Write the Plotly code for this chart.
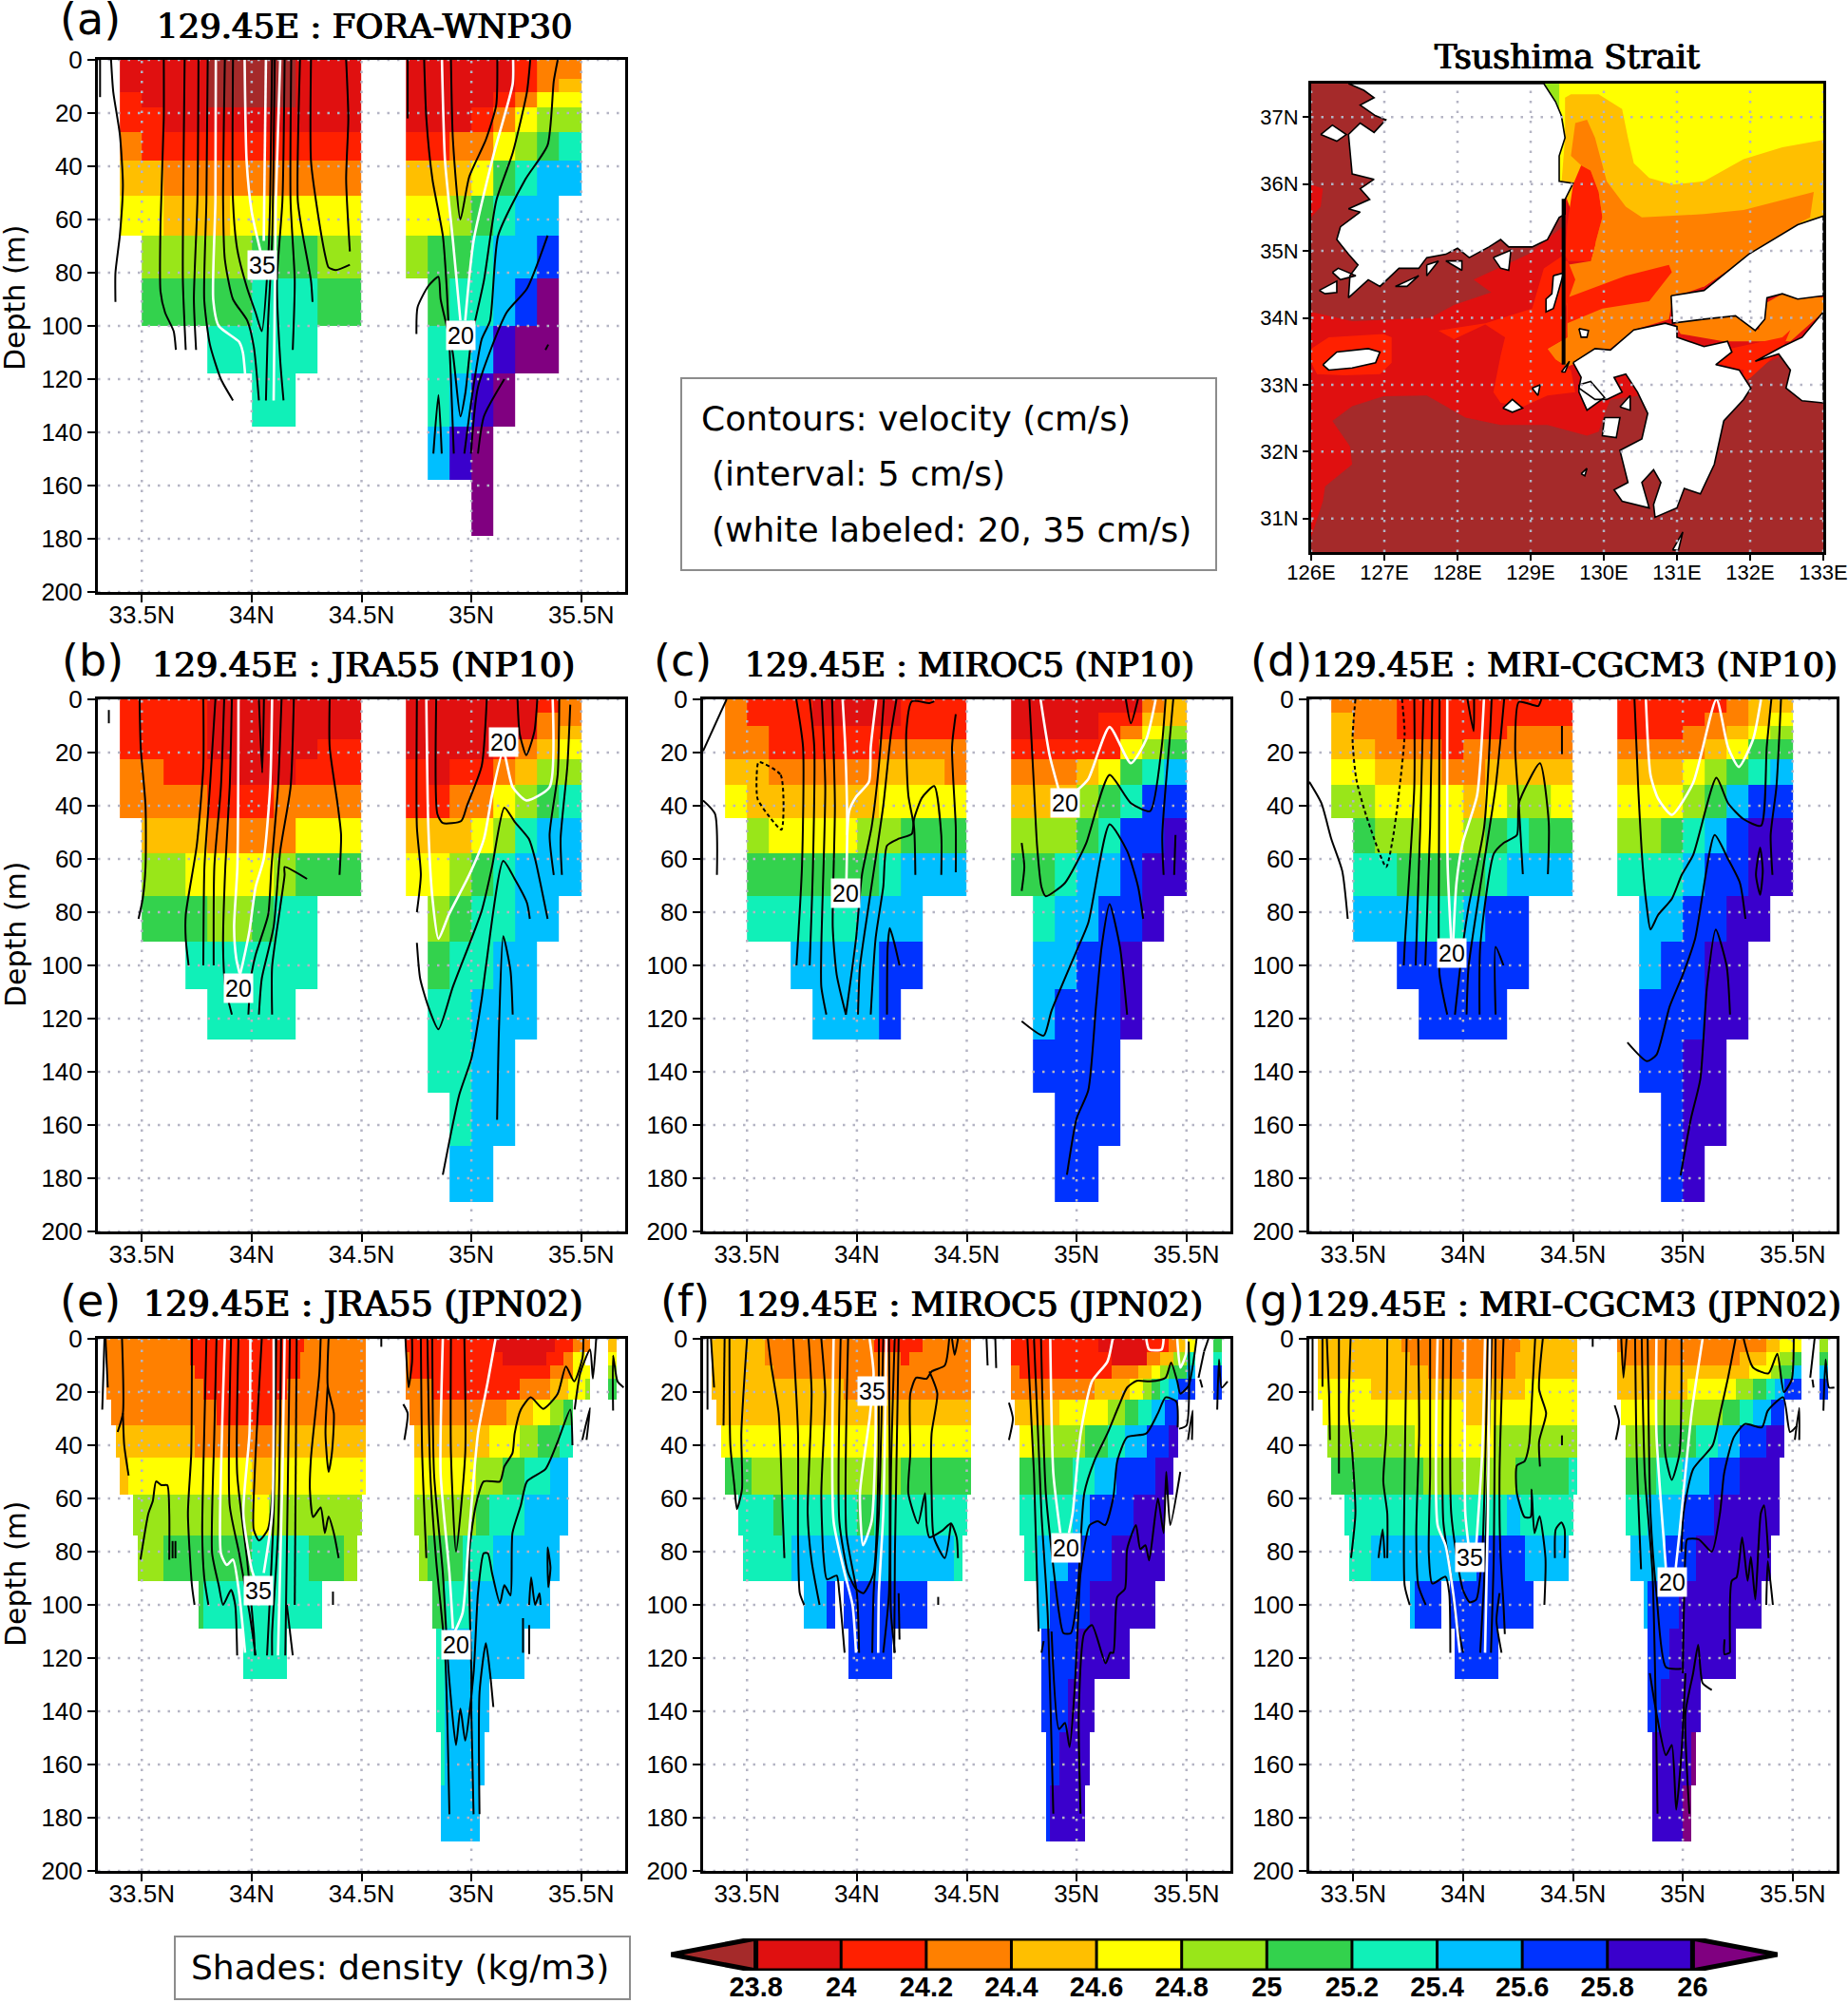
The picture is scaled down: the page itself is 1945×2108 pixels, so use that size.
import plotly.graph_objects as go

W, H = 1945, 2108

DENSITY_LEVELS = [23.8, 24.0, 24.2, 24.4, 24.6, 24.8, 25.0, 25.2, 25.4, 25.6, 25.8, 26.0]
DENSITY_LABELS = ["23.8", "24", "24.2", "24.4", "24.6", "24.8", "25", "25.2", "25.4", "25.6", "25.8", "26"]
COLORS = ["#a52a2a", "#e01010", "#ff2000", "#ff8000", "#ffbf00", "#ffff00", "#99e619",
          "#33d24d", "#10f0b8", "#00bfff", "#0033ff", "#3a00cc", "#800080"]
LAT_TICKS = [33.5, 34, 34.5, 35, 35.5]
LAT_LABELS = ["33.5N", "34N", "34.5N", "35N", "35.5N"]
DEPTH_TICKS = list(range(0, 201, 20))
LON_TICKS = [126, 127, 128, 129, 130, 131, 132, 133]
LON_LABELS = ["126E", "127E", "128E", "129E", "130E", "131E", "132E", "133E"]
MAPLAT_TICKS = [31, 32, 33, 34, 35, 36, 37]
MAPLAT_LABELS = ["31N", "32N", "33N", "34N", "35N", "36N", "37N"]

DEPTH_A = [0, 7, 12, 18, 27, 38, 51, 66, 82, 100, 118, 138, 158, 179]
DEPTH_NP10 = [0, 5, 10, 15, 22.5, 32, 44.5, 58, 74, 91, 109, 128, 148, 168, 189]
DEPTH_JPN02 = [0, 5, 10, 15, 23, 32.5, 44.5, 58.5, 74, 91, 109, 128, 148, 168, 189]

# density class per 0.1 deg cell, 33.4N ... 35.4N (0=<23.8 ... c=>26)
ROWS_A = ["11110000111" + ".." + "11111233", "11110000111" + ".." + "11111234",
          "21110000111" + ".." + "11112355", "22111111111" + ".." + "11123566",
          "32222222222" + ".." + "22335678", "44333333333" + ".." + "44457899",
          "55444555555" + ".." + "5567899.", ".6666677766" + ".." + "677899a.",
          ".7777788877" + ".." + ".7889ac.", "....88888.." + ".." + ".889bcc.",
          "......88..." + ".." + ".89bc...", "..........." + ".." + ".9bc....",
          "..........." + ".." + "...c...."]
ROWS_B = ["22221111111" + ".." + "11111123", "22221111111" + ".." + "11111133",
          "22221111111" + ".." + "11111134", "22221111122" + ".." + "11112345",
          "33222111222" + ".." + "21223466", "33332223333" + ".." + "22335678",
          ".4443333555" + ".." + "44456899", ".6655556777" + ".." + "55678999",
          ".77766788.." + ".." + ".678899.", "...888888.." + ".." + ".78899..",
          "....8888..." + ".." + ".88999..", "..........." + ".." + ".8899...",
          "..........." + ".." + "..899...", "..........." + ".." + "..99...."]
ROWS_C = ["32221111222" + ".." + "11111134", "32221111222" + ".." + "11112244",
          "33222222222" + ".." + "11112356", "33222223333" + ".." + "22222567",
          "44333334443" + ".." + "33345789", "54444445555" + ".." + "444678aa",
          ".6555566777" + ".." + "66678aab", ".7777778999" + ".." + "77899abb",
          ".88888999.." + ".." + ".899aab.", "...9999aa.." + ".." + ".99aab..",
          "....999a..." + ".." + ".9aaab..", "..........." + ".." + ".aaaa...",
          "..........." + ".." + "..aaa...", "..........." + ".." + "..aa...."]
ROWS_D = ["33322222222" + ".." + "22222344", "43322222222" + ".." + "22223345",
          "43322222333" + ".." + "22233456", "44333233333" + ".." + "33334577",
          "55444334444" + ".." + "44456789", "66555545665" + ".." + "555679aa",
          ".7665567877" + ".." + "66789abb", ".8877778999" + ".." + "8889aabb",
          ".999889aa.." + ".." + ".99aabb.", "...aaaaaa.." + ".." + ".9aabb..",
          "....aaaa..." + ".." + ".aaabb..", "..........." + ".." + ".aabb...",
          "..........." + ".." + "..abb...", "..........." + ".." + "..ab...."]

# JPN02 rows: "start_lat:class" runs
ROWS_E = [
 "33.34:3 33.72:2 34.24:3 34.52:. 34.70:2 35.10:1 35.38:2 35.46:3 35.54:. 35.62:4 35.66:.",
 "33.34:3 33.72:2 34.22:3 34.52:. 34.70:3 34.72:2 35.14:1 35.33:2 35.42:3 35.46:5 35.52:. 35.62:5 35.66:.",
 "33.34:3 33.74:2 34.22:3 34.52:. 34.70:3 34.72:2 35.36:3 35.46:5 35.54:. 35.62:6 35.66:.",
 "33.34:3 33.78:2 34.16:3 34.52:. 34.70:3 34.82:2 35.22:3 35.36:4 35.44:5 35.52:6 35.54:. 35.62:7 35.66:.",
 "33.36:3 33.84:2 34.10:3 34.52:. 34.72:3 35.16:4 35.28:5 35.36:6 35.42:7 35.46:.",
 "33.38:4 33.74:3 34.10:4 34.52:. 34.74:4 35.08:5 35.22:6 35.30:7 35.40:8 35.46:.",
 "33.40:4 33.44:5 34.00:4 34.10:5 34.52:. 34.74:5 35.01:6 35.14:7 35.24:8 35.36:9 35.44:.",
 "33.46:6 34.00:5 34.08:6 34.50:. 34.74:6 35.01:7 35.08:8 35.24:9 35.44:.",
 "33.48:6 33.60:7 34.00:8 34.26:7 34.42:6 34.48:. 34.76:6 34.80:7 34.96:8 35.10:9 35.40:.",
 "33.76:7 33.78:8 34.32:. 34.82:7 34.87:8 35.00:9 35.36:.",
 "33.96:8 34.16:. 34.84:8 34.87:9 35.24:.",
 "34.84:8 34.87:9 35.08:.",
 "34.86:8 34.88:9 35.06:.",
 "34.86:9 35.04:.",
]
ROWS_F = [
 "33.34:4 33.58:3 34.08:2 34.30:3 34.52:. 34.70:2 35.10:1 35.32:2 35.42:3 35.46:4 35.50:5 35.54:. 35.62:7 35.66:.",
 "33.34:4 33.58:3 34.20:2 34.24:3 34.52:. 34.70:2 35.16:1 35.32:3 35.38:4 35.44:6 35.50:8 35.54:. 35.62:8 35.66:.",
 "33.34:4 33.62:3 34.52:. 34.70:3 34.74:2 35.16:3 35.28:4 35.34:5 35.38:6 35.42:7 35.50:9 35.54:. 35.62:a 35.66:.",
 "33.34:4 33.94:3 34.52:. 34.70:3 35.08:4 35.24:5 35.30:6 35.34:7 35.38:8 35.42:9 35.46:a 35.54:. 35.62:a 35.66:.",
 "33.36:4 34.52:. 34.72:4 34.92:5 35.14:6 35.22:7 35.28:8 35.34:9 35.40:a 35.46:.",
 "33.38:5 34.52:. 34.74:5 34.80:6 35.04:7 35.14:8 35.22:9 35.32:a 35.42:b 35.46:.",
 "33.40:7 33.52:6 34.20:7 34.52:. 34.74:7 34.98:8 35.08:9 35.18:a 35.36:b 35.44:.",
 "33.46:8 33.62:7 33.66:8 34.00:7 34.08:8 34.50:. 34.74:8 34.98:9 35.06:a 35.26:b 35.40:.",
 "33.48:8 33.70:9 34.44:8 34.48:. 34.76:8 34.82:9 34.96:a 35.16:b 35.40:.",
 "33.76:9 33.86:a 33.90:. 33.94:a 34.32:. 34.82:9 34.88:a 35.06:b 35.36:.",
 "33.96:a 34.16:. 34.84:a 35.00:b 35.24:.",
 "34.84:a 34.96:b 35.08:.",
 "34.86:a 34.92:b 35.06:.",
 "34.86:a 34.88:b 35.04:.",
]
ROWS_G = [
 "33.34:4 33.72:3 34.26:4 34.52:. 34.70:3 35.38:4 35.44:5 35.54:. 35.62:6 35.66:.",
 "33.34:4 33.76:3 34.24:4 34.52:. 34.70:4 34.72:3 35.26:4 35.38:5 35.44:6 35.50:7 35.54:. 35.62:7 35.66:.",
 "33.34:4 33.84:3 34.24:4 34.52:. 34.70:4 35.30:5 35.40:6 35.44:7 35.50:9 35.54:. 35.62:9 35.66:.",
 "33.34:5 33.58:4 34.28:5 34.52:. 34.70:4 35.02:5 35.24:6 35.32:7 35.38:8 35.42:9 35.46:a 35.54:. 35.62:a 35.66:.",
 "33.36:5 34.00:4 34.12:5 34.52:. 34.72:5 34.88:6 35.18:7 35.26:8 35.32:9 35.40:a 35.46:.",
 "33.38:6 33.78:5 34.14:6 34.52:. 34.74:6 34.88:7 35.06:8 35.16:9 35.26:a 35.38:b 35.46:.",
 "33.40:7 33.82:6 34.24:7 34.48:8 34.52:. 34.74:7 34.88:8 35.00:9 35.12:a 35.26:b 35.44:.",
 "33.46:8 34.20:9 34.26:8 34.50:. 34.74:8 34.84:9 35.00:a 35.14:b 35.44:.",
 "33.48:8 33.58:9 34.06:a 34.28:9 34.48:. 34.76:9 34.92:a 35.06:b 35.40:.",
 "33.76:9 33.78:a 33.90:. 33.94:a 34.32:. 34.82:9 34.84:a 34.98:b 35.36:.",
 "33.96:a 34.16:. 34.84:a 34.94:b 35.24:.",
 "34.84:a 34.90:b 35.08:.",
 "34.86:b 35.04:c 35.06:.",
 "34.86:b 35.00:c 35.04:.",
]

# velocity contours: (lat, depth)
BLACK_A = [
 [(33.31,0),(33.31,14)],
 [(33.36,0),(33.37,12),(33.40,28),(33.414,47),(33.40,66),(33.38,80),(33.38,91)],
 [(33.6,0),(33.6,22),(33.585,62),(33.585,87),(33.606,95),(33.645,102),(33.655,109)],
 [(33.695,0),(33.69,38),(33.687,83),(33.70,109)],
 [(33.758,0),(33.753,53),(33.737,90),(33.747,109)],
 [(33.8,0),(33.794,53),(33.784,90),(33.81,107),(33.86,120),(33.915,128)],
 [(33.878,0),(33.87,53),(33.878,75),(33.915,90),(33.98,98),(34.01,108),(34.033,128)],
 [(33.915,0),(33.915,53),(33.934,71),(33.98,86),(34.018,95),(34.046,102),(34.075,75),(34.084,53),(34.093,0)],
 [(34.065,128),(34.075,98),(34.093,68),(34.105,0)],
 [(34.15,0),(34.14,53),(34.115,83),(34.13,113),(34.145,128)],
 [(34.18,0),(34.177,53),(34.196,83),(34.187,109)],
 [(34.22,0),(34.21,53),(34.233,66),(34.27,83),(34.277,91)],
 [(34.27,0),(34.27,38),(34.3,57),(34.336,74),(34.35,78),(34.383,79),(34.447,77)],
 [(34.43,0),(34.44,22),(34.43,45),(34.447,72)],
 [(34.71,0),(34.71,22)],
 [(34.785,0),(34.795,22),(34.823,45),(34.87,66),(34.888,86),(34.907,120),(34.92,148)],
 [(34.907,0),(34.916,30),(34.95,60),(34.99,44),(35.066,30),(35.113,17),(35.118,0)],
 [(34.75,103),(34.755,93),(34.804,85),(34.85,81.5),(34.86,90),(34.915,110),(34.95,134),(34.973,125),(35.0,105),(35.057,83),(35.113,53),(35.188,35),(35.253,12),(35.268,0)],
 [(34.968,148),(35.0,128),(35.047,105),(35.085,98),(35.122,66),(35.245,45),(35.347,32),(35.375,8),(35.393,0)],
 [(34.998,148),(35.03,123),(35.16,95),(35.253,86),(35.347,66)],
 [(34.827,148),(34.85,126),(34.865,148)],
 [(35.03,148),(35.057,134),(35.15,120)],
 [(35.337,109),(35.35,107)],
]
WHITE_A = [
 [(33.837,0),(33.835,53),(33.825,90),(33.85,100),(33.943,106),(33.96,110),(33.97,118)],
 [(33.968,0),(33.977,38),(34.0,57),(34.046,74)],
 [(34.065,0),(34.055,68)],
 [(34.13,0),(34.11,53),(34.10,128)],
 [(34.866,0),(34.88,38),(34.916,68),(34.95,98)],
 [(34.972,98),(35.01,68),(35.103,35),(35.188,9),(35.19,0)],
]
LABELS_A = [(34.05, 77, "35"), (34.95, 103.7, "20")]

BLACK_B = [
 [(33.35,4),(33.35,9)],
 [(33.49,0),(33.495,18),(33.517,40),(33.517,63),(33.504,75),(33.485,82.5)],
 [(33.78,0),(33.78,25),(33.75,55),(33.70,81),(33.70,90),(33.713,100)],
 [(33.835,0),(33.81,33),(33.785,63),(33.78,100)],
 [(33.875,0),(33.86,33),(33.83,63),(33.827,100)],
 [(33.91,0),(33.90,33),(33.88,63),(33.87,93),(33.88,108),(33.91,118.5)],
 [(34.033,0),(34.048,27.6),(34.056,0)],
 [(34.136,0),(34.12,33),(34.09,63),(34.075,81),(34.018,96),(33.996,105),(33.985,118.5)],
 [(34.192,0),(34.177,33),(34.13,57),(34.10,85.5),(34.046,105),(34.033,118.5)],
 [(34.252,67.5),(34.15,63),(34.15,66),(34.13,78),(34.093,100.5),(34.093,118.5)],
 [(34.355,0),(34.355,18),(34.392,40),(34.407,51),(34.40,66)],
 [(34.752,0),(34.752,48),(34.77,66),(34.752,80)],
 [(34.84,0),(34.845,43),(34.87,46.5),(34.954,45.7),(34.98,40),(35.047,25),(35.07,0)],
 [(35.21,0),(35.22,13),(35.25,21),(35.287,12),(35.30,0)],
 [(34.752,91.5),(34.767,105),(34.804,115.5),(34.85,124),(34.916,108),(35.047,79.5),(35.094,63),(35.15,40.7),(35.197,46),(35.262,52.5),(35.29,60),(35.347,82.5)],
 [(34.87,178.7),(34.945,148.6),(35.0,135),(35.047,112.5),(35.066,100.5),(35.145,60.7),(35.197,67.5),(35.253,76.5),(35.266,82.5)],
 [(35.117,158),(35.126,123),(35.145,89),(35.178,102),(35.188,118.5)],
 [(35.375,66),(35.356,51),(35.393,28),(35.40,0)],
 [(35.412,66),(35.406,52.5),(35.437,25),(35.45,2)],
]
WHITE_B = [
 [(33.94,0),(33.935,63),(33.92,85.5),(33.93,97.5),(33.945,103)],
 [(34.093,0),(34.084,33),(34.055,60),(34.018,70.5),(33.99,87),(33.96,99),(33.947,103.5)],
 [(34.795,0),(34.804,48),(34.823,75),(34.85,90),(34.897,81),(34.99,66),(35.057,52.5),(35.094,36),(35.145,19.4),(35.188,33),(35.25,38),(35.356,33),(35.37,0)],
]
LABELS_B = [(33.94, 108.7, "20"), (35.145, 16, "20")]

BLACK_C = [
 [(33.407,0),(33.30,19.4)],
 [(33.30,38),(33.354,43),(33.363,66)],
 [(33.724,0),(33.755,18),(33.75,63),(33.725,100)],
 [(33.785,0),(33.806,18),(33.80,63),(33.785,100)],
 [(33.84,0),(33.856,33),(33.838,93),(33.838,108),(33.861,118.5)],
 [(33.887,0),(33.90,40),(33.89,85.5),(33.908,103.5),(33.95,118.5)],
 [(34.123,0),(34.10,25),(34.067,48),(34.023,66),(33.996,90),(33.95,118.5)],
 [(34.18,0),(34.155,13),(34.12,40),(34.058,75),(34.014,100.5),(34.005,118.5)],
 [(34.352,0.75),(34.33,1.4),(34.25,0.75),(34.225,12),(34.234,36),(34.26,48),(34.266,66)],
 [(34.063,118.5),(34.085,90),(34.12,70.5),(34.137,55),(34.19,52.4),(34.25,50.6),(34.26,45),(34.296,37),(34.352,32.6),(34.384,51),(34.384,66)],
 [(34.45,5.6),(34.433,18),(34.45,48),(34.45,65)],
 [(34.137,118.5),(34.14,93),(34.15,86),(34.17,91.5),(34.194,100)],
 [(34.785,0),(34.806,33),(34.82,55),(34.84,70.5),(34.86,74),(34.947,69),(35.0,61.5),(35.044,54),(35.15,28.4),(35.247,39),(35.335,42),(35.387,18),(35.405,0)],
 [(35.224,0),(35.247,9),(35.279,0)],
 [(34.75,54),(34.762,63),(34.75,72)],
 [(34.75,121),(34.85,126.4),(34.886,117),(35.0,94.5),(35.053,84),(35.15,47),(35.23,57),(35.28,70.5),(35.303,82.5)],
 [(34.956,178.7),(35.0,157.6),(35.053,147),(35.088,115.5),(35.114,93),(35.15,77),(35.197,93),(35.23,118.5)],
 [(35.396,66),(35.39,51),(35.44,0)],
 [(35.444,66),(35.45,51)],
]
DASH_C = [[(33.553,23.6),(33.653,28.4),(33.657,49),(33.61,45),(33.548,37.4),(33.544,28.4),(33.553,23.6)]]
WHITE_C = [
 [(33.935,0),(33.947,18),(33.956,48),(33.952,69)],
 [(34.088,0),(34.063,18),(34.055,31),(33.996,36.7),(33.965,42),(33.956,51)],
 [(34.836,0),(34.877,21),(34.92,34.4)],
 [(35.0,34.4),(35.053,30),(35.15,10.4),(35.247,24),(35.317,15),(35.36,0)],
]
LABELS_C = [(33.95, 72.7, "20"), (34.947, 39, "20")]

BLACK_D = [
 [(33.30,31),(33.355,39),(33.40,52.4),(33.45,64.5),(33.475,82.5)],
 [(33.778,0),(33.778,33),(33.734,93),(33.73,100)],
 [(33.82,0),(33.805,48),(33.784,100)],
 [(33.86,0),(33.85,48),(33.828,100)],
 [(33.893,0),(33.89,63),(33.893,103.5),(33.928,118.5)],
 [(34.02,0),(34.048,12),(34.05,0)],
 [(34.13,0),(34.096,48),(34.025,78),(33.998,93),(33.963,118.5)],
 [(34.187,0),(34.148,33),(34.078,70.5),(34.025,100.5),(34.016,118.5)],
 [(34.356,0),(34.342,2.5),(34.254,1),(34.237,18),(34.254,40),(34.272,65.7)],
 [(34.148,118.5),(34.148,93),(34.184,100)],
 [(34.075,118.5),(34.078,93),(34.14,58),(34.184,54),(34.245,51),(34.254,39),(34.35,24),(34.39,46.4),(34.386,65.7)],
 [(34.45,10),(34.45,20.6)],
 [(34.78,0),(34.797,33),(34.818,63),(34.836,78),(34.853,86.5),(34.888,81),(34.95,75),(34.995,66),(35.047,58.5),(35.153,29.5),(35.206,39),(35.276,45),(35.356,47.5),(35.382,18),(35.403,0)],
 [(34.748,129),(34.836,136),(34.88,133.6),(34.94,115.5),(35.0,103.5),(35.056,90),(35.145,51),(35.206,60),(35.26,69),(35.285,82.5)],
 [(34.99,179),(35.037,157.6),(35.08,142.6),(35.11,108),(35.15,86.5),(35.2,100.5),(35.215,118.5)],
 [(35.352,55.7),(35.364,64.5),(35.352,73.5),(35.333,66),(35.352,55.7)],
 [(35.408,66),(35.40,51),(35.426,33),(35.447,0)],
]
DASH_D = [[(33.51,0),(33.497,15),(33.514,30),(33.558,43.4),(33.65,63),(33.68,52.4),(33.707,36),(33.734,13),(33.722,0)]]
WHITE_D = [
 [(33.928,0),(33.93,63),(33.946,91)],
 [(34.095,0),(34.064,36),(33.998,54),(33.97,69),(33.955,91)],
 [(34.832,0),(34.853,28.4),(34.888,37.4),(34.95,43.4),(35.047,31.4),(35.153,0),(35.206,18),(35.255,25.4),(35.32,15),(35.356,0)],
]
LABELS_D = [(33.95, 95.5, "20")]

BLACK_E = [
 [(33.33,0),(33.32,26.6)],
 [(33.335,0),(33.345,18.3)],
 [(33.41,0),(33.414,28),(33.39,35)],
 [(33.414,28),(33.42,40),(33.44,51.4)],
 [(33.494,83),(33.53,65.6),(33.55,61),(33.565,53.6),(33.59,55),(33.616,55),(33.625,65.6),(33.625,83)],
 [(33.64,76),(33.64,82.5)],
 [(33.653,76),(33.653,82.5)],
 [(33.728,0),(33.725,43),(33.71,65.6),(33.728,92.6),(33.74,100)],
 [(33.794,0),(33.784,35.6),(33.775,73),(33.784,89.6),(33.803,100)],
 [(33.84,0),(33.83,35.6),(33.82,80.6),(33.85,92.6),(33.87,100),(33.906,94.4),(33.925,100),(33.934,119)],
 [(33.906,0),(33.90,62.6),(33.943,80.6),(33.99,103),(34.018,119)],
 [(33.94,0),(33.934,50.6),(33.98,83.6),(34.01,110.6),(34.015,119)],
 [(34.046,0),(34.014,50.6),(34.009,71.6),(34.033,75.8),(34.074,71.6),(34.10,50.6),(34.108,0)],
 [(34.112,0),(34.10,65.6),(34.084,95.6),(34.07,119)],
 [(34.134,0),(34.12,73),(34.093,110.6),(34.093,119)],
 [(34.174,0),(34.16,80.6),(34.153,119)],
 [(34.205,0),(34.196,100)],
 [(34.16,100),(34.187,119)],
 [(34.314,0),(34.308,13),(34.27,44.6),(34.265,56.6),(34.28,67),(34.314,63.4),(34.333,73),(34.35,66.8),(34.374,73),(34.396,82.4)],
 [(34.35,0),(34.346,17.6),(34.374,28),(34.365,43),(34.35,50),(34.336,35.6),(34.346,17.6)],
 [(34.37,95),(34.37,100)],
 [(34.59,0),(34.59,3)],
 [(34.70,0),(34.714,18.3),(34.73,8.6),(34.73,0)],
 [(34.69,24.6),(34.71,28),(34.695,38)],
 [(34.77,0),(34.776,43),(34.795,82.4)],
 [(34.80,0),(34.813,50.6),(34.84,83.6),(34.88,118),(34.90,178.7)],
 [(34.822,0),(34.83,50.6),(34.87,88),(34.897,125.7),(34.93,152.7),(34.95,139),(34.972,151),(35.01,125.7),(35.03,95.6),(35.056,80.6),(35.075,80.6),(35.094,88),(35.13,99.4),(35.15,92.6),(35.178,96.4),(35.187,73),(35.225,62.6),(35.253,53.6),(35.337,49),(35.393,38.6),(35.45,26.6),(35.46,40)],
 [(34.907,0),(34.907,43),(34.93,80),(34.972,43),(34.968,0)],
 [(35.037,178.7),(35.037,133),(35.066,114.4),(35.085,125.7),(35.10,138.4)],
 [(35.01,178.7),(35.0,140.7),(35.0,125.7),(34.99,80.6),(35.02,62.6),(35.056,53.6),(35.13,53.6),(35.15,48),(35.187,43),(35.197,35.6),(35.225,26.6),(35.27,22),(35.327,26.3),(35.393,20.6),(35.43,10.4),(35.468,16),(35.506,7),(35.51,0)],
 [(35.47,26.6),(35.495,13),(35.54,4),(35.553,15),(35.568,0)],
 [(35.505,38),(35.54,26),(35.524,38)],
 [(35.645,27),(35.645,6.3),(35.665,16),(35.693,18.3)],
 [(35.347,78.4),(35.36,86),(35.35,93.4),(35.347,78.4)],
 [(35.263,100),(35.272,89.6),(35.29,100),(35.31,95.6),(35.315,100)],
 [(35.235,105),(35.235,118)],
 [(35.263,107.6),(35.263,118.5)],
]
WHITE_E = [
 [(33.878,0),(33.865,35.6),(33.86,80.6),(33.887,85),(33.915,83),(33.943,95.6),(33.97,118)],
 [(33.994,0),(33.99,35.6),(33.962,65.6),(34.0,86.6),(34.018,91)],
 [(34.10,0),(34.093,65.6),(34.055,88)],
 [(34.15,0),(34.14,50.6),(34.12,119)],
 [(34.87,0),(34.86,50.6),(34.90,88),(34.916,109)],
 [(35.11,0),(35.075,16),(35.03,35.6),(34.99,73),(34.96,103),(34.925,110)],
]
LABELS_E = [(34.03, 94.5, "35"), (34.93, 115, "20")]

BLACK_F = [
 [(33.32,0),(33.32,26.6)],
 [(33.336,0),(33.35,18.3)],
 [(33.398,0),(33.393,32.6)],
 [(33.42,0),(33.424,40),(33.442,55),(33.454,64),(33.477,56.6),(33.474,35.6),(33.50,0)],
 [(33.595,0),(33.61,10),(33.644,28),(33.662,65.6),(33.67,82.4)],
 [(33.71,0),(33.732,35.6),(33.732,73),(33.74,95.6),(33.76,100)],
 [(33.78,0),(33.794,20.6),(33.776,65.6),(33.794,83.6),(33.83,100)],
 [(33.838,0),(33.856,20.6),(33.838,58),(33.847,80.6),(33.864,90.4),(33.908,89),(33.92,95.6),(33.944,118)],
 [(33.926,0),(33.92,68.6),(33.96,88),(33.996,94),(34.03,95.6),(34.076,88),(34.097,50.6),(34.10,0)],
 [(33.96,0),(33.952,73),(34.0,95.6),(34.01,118)],
 [(34.12,0),(34.10,65.6),(34.076,95.6),(34.07,118)],
 [(34.146,0),(34.146,95.6),(34.12,118)],
 [(34.19,0),(34.173,80.6),(34.17,118)],
 [(34.172,0),(34.155,50.6),(34.155,103),(34.173,118)],
 [(34.19,95.6),(34.194,113)],
 [(34.42,0),(34.40,10),(34.34,12.3),(34.317,15),(34.27,14.6),(34.243,20.6),(34.243,43),(34.234,58),(34.278,69.4),(34.31,58),(34.317,70),(34.33,74.6),(34.39,72),(34.428,69.4),(34.454,74.6),(34.46,82.4)],
 [(34.33,12.3),(34.366,20.6),(34.34,35.6),(34.34,58),(34.35,74.6),(34.40,82.4),(34.428,69.4)],
 [(34.433,0),(34.445,6),(34.46,0)],
 [(34.37,97),(34.37,100)],
 [(34.59,0),(34.595,10)],
 [(34.63,0),(34.634,11)],
 [(34.776,0),(34.806,50.6),(34.827,110)],
 [(34.806,0),(34.84,65.6),(34.868,103),(34.894,178.5)],
 [(34.838,0),(34.86,58),(34.92,103),(34.94,110.6),(34.974,110.6),(35.004,95.6),(35.035,58),(35.08,46),(35.14,35.6),(35.193,25),(35.23,18.3),(35.273,15.8),(35.334,16),(35.405,14.6),(35.43,8.9),(35.458,16),(35.472,20.6),(35.51,17.6),(35.537,5.6),(35.546,0)],
 [(34.84,118),(34.85,113.6)],
 [(34.886,110),(34.92,146.7),(34.947,144.4),(34.968,153.5),(34.99,133),(35.004,110.6),(35.018,88),(35.06,70),(35.097,68.6),(35.13,70),(35.167,59.6),(35.185,46),(35.23,37),(35.317,35.6),(35.37,28),(35.405,22),(35.454,23.6),(35.46,33.3)],
 [(35.018,178.5),(35.01,140.7),(35.035,110.6),(35.07,107.6),(35.132,122),(35.153,118),(35.167,118),(35.185,97),(35.22,94),(35.23,79),(35.27,70),(35.29,79),(35.313,77.6),(35.33,83.3),(35.37,60),(35.396,73),(35.408,50),(35.426,70),(35.472,50)],
 [(35.466,33.8),(35.5,32.6),(35.51,1)],
 [(35.507,38),(35.528,27),(35.525,38)],
 [(35.58,4.8),(35.555,14.6)],
 [(35.58,4.8),(35.6,0)],
 [(35.562,15.3),(35.572,18.3)],
 [(35.64,26.6),(35.648,7.8),(35.66,18.3),(35.687,16)],
 [(34.692,24),(34.71,30),(34.692,38)],
]
WHITE_F = [
 [(33.894,0),(33.894,68.6),(33.944,88),(33.98,100),(33.996,118)],
 [(34.058,0),(34.076,13),(34.058,29.6),(34.014,58),(34.028,77.6),(34.067,68.6),(34.085,35.6),(34.085,16)],
 [(34.134,0),(34.12,65.6),(34.10,95.6),(34.097,118)],
 [(34.88,0),(34.894,50.6),(34.926,73)],
 [(35.164,0),(35.14,8.6),(35.07,16),(35.018,35.6),(34.982,65.6),(34.965,73)],
 [(35.317,0),(35.33,4),(35.387,4),(35.396,0)],
 [(35.458,0),(35.472,10.8),(35.498,5.6),(35.5,0)],
]
LABELS_F = [(34.07, 19.5, "35"), (34.95, 78.5, "20")]

BLACK_G = [
 [(33.315,0),(33.315,27)],
 [(33.36,0),(33.36,18)],
 [(33.38,0),(33.39,20.6),(33.394,38)],
 [(33.435,0),(33.435,50.6)],
 [(33.488,0),(33.48,28),(33.496,43),(33.51,65.6),(33.49,82.4)],
 [(33.615,82.4),(33.634,71.6),(33.643,82.4)],
 [(33.655,0),(33.65,35.6),(33.637,53.6),(33.655,65.6),(33.655,82.4)],
 [(33.743,0),(33.734,50.6),(33.734,92.6),(33.757,100)],
 [(33.796,0),(33.80,35.6),(33.787,73),(33.796,92.6),(33.83,100)],
 [(33.85,0),(33.85,50.6),(33.844,80.6),(33.86,92),(33.92,89.4),(33.937,95.6),(33.942,118)],
 [(33.91,0),(33.91,68.6),(33.946,89.6),(33.963,103),(34.0,118)],
 [(33.946,0),(33.946,65.6),(33.998,94),(34.03,99),(34.06,98),(34.087,80.6),(34.104,35.6),(34.113,0)],
 [(34.13,0),(34.113,50.6),(34.095,92.6),(34.078,118)],
 [(34.148,0),(34.14,80.6),(34.127,118)],
 [(34.184,0),(34.166,50.6),(34.17,80.6),(34.184,100),(34.19,111)],
 [(34.166,95.6),(34.152,106),(34.175,118)],
 [(34.328,0),(34.31,28),(34.30,40),(34.28,46),(34.245,47.6),(34.245,58),(34.28,67),(34.307,67),(34.312,56.6),(34.325,73),(34.348,66.7),(34.375,82.4),(34.37,100)],
 [(34.363,0),(34.346,19),(34.378,28),(34.346,38.6),(34.35,48)],
 [(34.45,36.3),(34.45,40)],
 [(34.418,82.4),(34.422,71.6),(34.448,69),(34.462,71.6),(34.462,82.4)],
 [(34.59,0),(34.59,3)],
 [(34.72,0),(34.73,14.6),(34.744,0)],
 [(34.69,25),(34.71,31),(34.695,38)],
 [(34.783,0),(34.79,43),(34.81,86.6)],
 [(34.813,0),(34.827,50.6),(34.862,88),(34.885,178.5)],
 [(34.84,0),(34.853,65.6),(34.88,95.6),(34.923,123.4),(34.994,124)],
 [(34.85,125.7),(34.88,140.7),(34.923,156.5),(34.95,152.7),(34.97,177),(34.994,155.7),(35.012,125.7)],
 [(34.923,0),(34.92,43),(34.95,53),(34.985,43),(34.994,0)],
 [(34.994,80),(35.003,65.6),(35.047,49),(35.136,40),(35.17,28),(35.206,14.6),(35.24,0)],
 [(35.277,0),(35.32,10.8),(35.39,13),(35.43,5.6),(35.46,20),(35.496,15.3),(35.505,0)],
 [(35.0,125.7),(35.012,80.6),(35.02,75.4),(35.073,75.4),(35.132,80),(35.17,65),(35.188,50.6),(35.232,37),(35.283,32),(35.36,33.3),(35.387,27),(35.457,22),(35.488,35),(35.52,32.6)],
 [(35.03,178.5),(35.012,140.7),(35.047,125.7),(35.07,115),(35.09,129.4),(35.132,132)],
 [(35.215,118),(35.223,91),(35.245,89.6),(35.27,74.6),(35.295,91),(35.31,82),(35.33,98),(35.355,65.6),(35.37,62.6),(35.39,82.4)],
 [(35.38,100),(35.387,83.6),(35.41,100)],
 [(35.19,113),(35.19,118.6),(35.215,118)],
 [(35.51,38),(35.53,26),(35.53,38)],
 [(35.6,0),(35.58,14.6)],
 [(35.59,15.3),(35.595,18.3)],
 [(35.64,27),(35.65,7.8),(35.665,18.3),(35.69,18.3)],
]
WHITE_G = [
 [(33.884,0),(33.884,70),(33.92,77.6),(33.955,95.6),(33.985,118)],
 [(34.01,0),(34.01,65.6),(34.025,77.6)],
 [(34.10,0),(34.087,43),(34.06,77.6)],
 [(34.122,0),(34.113,65.6),(34.10,118)],
 [(34.88,0),(34.88,35.6),(34.923,86)],
 [(35.09,0),(35.04,28),(34.985,73),(34.968,86)],
]
LABELS_G = [(34.03, 82, "35"), (34.95, 91.5, "20")]

# map of the Tsushima Strait: (lon, lat) outlines, painted in this order
SEA_DKRED = [
 [(126,34.09),(126.56,33.95),(127.63,34.0),(127.95,34.19),(128.46,34.38),(128.22,34.57),(128.97,34.95),(129.47,35.39),(129.47,37.5),(133,37.5),(133,33.98),(132.44,33.44),(132.12,33.27),(131.91,33.11),(130.84,32.89),(130.09,32.78),(130.01,32.57),(129.93,32.30),(129.77,32.24),(129.23,32.40),(128.59,32.40),(128.11,32.51),(127.58,32.84),(126.99,32.83),(126.56,32.68),(126.29,32.46),(126.53,32.08),(126.56,31.81),(126.19,31.48),(126.16,31.26),(126,30.72)],
 [(126,35.99),(126.16,35.93),(126.13,35.66),(126,35.50)],
]
SEA_YELLOW = [[(129.39,37.5),(133,37.5),(133,35.5),(132.65,35.39),(129.39,36.04)]]
SEA_YGREEN = [[(129.18,37.5),(129.39,37.5),(129.39,37.07)]]
SEA_AMBER = [[(129.47,37.29),(129.55,37.34),(129.93,37.34),(130.25,37.12),(130.33,36.69),(130.41,36.31),(130.62,36.09),(130.94,35.99),(131.37,36.04),(131.91,36.37),(132.44,36.55),(133,36.66),(133,35.50),(132.65,35.39),(132.01,34.95),(131.37,34.47),(130.30,34.52),(129.55,35.61),(129.42,35.99),(129.47,36.69)]]
SEA_ORANGE = [
 [(129.23,33.54),(129.50,33.71),(129.50,34.79),(129.82,34.85),(129.98,35.50),(129.93,35.88),(129.82,36.20),(129.69,36.28),(129.55,36.42),(129.61,36.91),(129.77,36.96),(129.88,36.69),(130.04,36.04),(130.30,35.66),(130.52,35.50),(131.37,35.55),(131.91,35.61),(132.87,35.88),(132.82,35.50),(132.71,35.44),(132.01,34.95),(131.37,34.47),(130.94,34.30),(130.89,33.98),(130.41,33.82),(130.09,33.54),(129.50,33.27),(129.23,33.44)],
 [(130.94,33.98),(131.80,34.03),(132.12,33.82),(132.17,34.19),(132.44,34.36),(133,34.30),(133,34.09),(132.55,33.65),(132.07,33.65),(131.64,33.65),(131.05,33.76)],
 [(129.05,33.16),(129.23,33.19),(129.18,33.03),(129.07,33.06)],
]
SEA_RED = [
 [(127.74,33.81),(128.38,33.92),(129.02,34.14),(129.18,34.74),(129.47,34.95),(129.61,34.57),(129.47,34.14),(129.50,33.71),(129.23,33.54),(129.34,33.38),(129.55,33.22),(129.61,32.89),(129.23,32.84),(128.91,32.68),(128.59,32.73),(128.49,32.89),(128.59,33.44),(128.65,33.71),(128.38,33.90),(127.95,33.68)],
 [(126,33.54),(126.24,33.71),(126.99,33.76),(127.10,33.71),(127.10,33.33),(126.94,33.16),(126.45,33.14),(126.08,33.16),(126,33.33)],
 [(129.47,34.85),(129.82,34.85),(129.98,35.50),(129.93,35.88),(129.82,36.20),(129.69,36.28),(129.58,35.99),(129.50,35.39)],
 [(129.50,34.30),(130.30,34.63),(130.89,34.79),(130.93,34.68),(130.62,34.25),(129.98,34.14),(129.50,33.92)],
 [(131.53,33.33),(131.72,33.54),(132.44,33.71),(132.55,33.82),(132.44,33.54),(132.01,33.11),(131.91,33.05),(131.91,33.22)],
]
LAND = [
 [(126.51,37.50),(126.72,37.40),(126.86,37.29),(126.67,37.18),(126.88,37.02),(127.02,36.96),(126.86,36.77),(126.67,36.91),(126.51,36.74),(126.53,36.47),(126.56,36.15),(126.86,36.07),(126.67,35.93),(126.80,35.77),(126.51,35.63),(126.67,35.58),(126.40,35.36),(126.35,35.17),(126.51,34.95),(126.64,34.79),(126.53,34.63),(126.51,34.30),(126.78,34.57),(126.94,34.47),(127.20,34.74),(127.47,34.74),(127.58,34.90),(127.84,34.95),(128.00,35.04),(128.16,34.90),(128.43,35.06),(128.59,35.17),(128.70,35.06),(129.02,35.06),(129.23,35.17),(129.39,35.50),(129.47,35.55),(129.47,35.77),(129.58,36.01),(129.39,36.04),(129.39,36.42),(129.47,36.69),(129.42,37.02),(129.34,37.23),(129.18,37.50)],
 [(126.16,33.30),(126.35,33.49),(126.78,33.54),(126.94,33.49),(126.88,33.33),(126.56,33.25),(126.24,33.22)],
 [(129.31,34.63),(129.45,34.67),(129.37,34.36),(129.31,34.14),(129.21,34.09),(129.21,34.28),(129.29,34.36)],
 [(129.66,33.84),(129.79,33.81),(129.77,33.71),(129.69,33.71)],
 [(128.62,32.65),(128.75,32.78),(128.89,32.65),(128.75,32.59)],
 [(129.02,32.95),(129.13,33.0),(129.10,32.84)],
 [(129.42,33.19),(129.53,33.35),(129.47,33.19)],
 [(126.13,36.74),(126.29,36.88),(126.48,36.74),(126.35,36.64)],
 [(126.11,34.41),(126.35,34.55),(126.35,34.38),(126.19,34.36)],
 [(127.15,34.47),(127.47,34.63),(127.31,34.47)],
 [(127.58,34.79),(127.74,34.85),(127.58,34.63)],
 [(127.84,34.85),(128.06,34.85),(128.06,34.71)],
 [(128.49,34.90),(128.73,35.01),(128.70,34.71),(128.59,34.74)],
 [(126.29,34.68),(126.37,34.74),(126.61,34.63),(126.40,34.57)],
 [(129.58,33.33),(129.88,33.54),(130.09,33.52),(130.41,33.82),(130.84,33.92),(131.0,33.87),(131.0,33.71),(131.37,33.57),(131.69,33.65),(131.75,33.49),(131.53,33.30),(131.85,33.22),(132.01,32.95),(131.91,32.78),(131.64,32.46),(131.51,31.81),(131.32,31.37),(131.10,31.45),(131.0,31.16),(130.70,31.02),(130.68,31.21),(130.78,31.54),(130.68,31.73),(130.52,31.54),(130.62,31.16),(130.25,31.26),(130.14,31.43),(130.33,31.54),(130.22,32.02),(130.52,32.19),(130.60,32.57),(130.46,32.89),(130.30,33.16),(130.14,33.11),(130.25,32.89),(130.04,32.78),(129.88,32.78),(129.66,32.95),(129.69,33.11)],
 [(130.92,34.33),(131.37,34.41),(131.98,34.95),(132.65,35.39),(133,35.52),(133,34.33),(132.65,34.28),(132.44,34.36),(132.23,34.30),(132.20,33.98),(132.07,33.81),(131.80,34.03),(131.37,33.98),(130.94,33.92)],
 [(132.07,33.35),(132.39,33.46),(132.55,33.22),(132.49,32.95),(132.71,32.76),(133,32.73),(133,34.09),(132.71,33.71),(132.44,33.57)],
 [(129.66,33.0),(129.82,33.05),(130.01,32.81),(129.77,32.62),(129.66,32.89)],
 [(130.01,32.51),(130.22,32.51),(130.17,32.21),(129.98,32.24)],
 [(130.22,32.67),(130.36,32.84),(130.36,32.62)],
 [(130.94,30.53),(131.08,30.80),(131.02,30.53)],
 [(129.69,31.67),(129.77,31.75),(129.74,31.64)],
]
SECTION = [(129.45, 33.3), (129.45, 35.78)]

# ------------------------------------------------------------------
fig = go.Figure()
colorscale = []
for i, c in enumerate(COLORS):
    colorscale += [[i / 13, c], [(i + 1) / 13, c]]
FONT_TICK = dict(family="Liberation Sans", size=26, color="black")


def cls_value(ch):
    return None if ch == "." else 23.7 + 0.2 * int(ch, 16)


def lines_xy(lines):
    xs, ys = [], []
    for ln in lines:
        xs += [p[0] for p in ln] + [None]
        ys += [p[1] for p in ln] + [None]
    return xs, ys


def axes_ids(n):
    return ("x" if n == 1 else f"x{n}"), ("y" if n == 1 else f"y{n}")


def add_axes(n, xr, yr, box, xticks, xlabels, yticks, ylabels, font, standoff):
    x0, x1, y0, y1 = box
    sfx = "" if n == 1 else str(n)
    common = dict(showgrid=False, zeroline=False, showline=True, linecolor="black", linewidth=3,
                  mirror=True, ticks="outside", ticklen=8, tickwidth=2, tickcolor="black", tickfont=font,
                  layer="above traces")
    fig.update_layout(**{
        "xaxis" + sfx: dict(domain=[x0 / W, x1 / W], range=xr, tickmode="array", tickvals=xticks, ticktext=xlabels,
                            anchor="y" + sfx, ticklabelstandoff=standoff, **common),
        "yaxis" + sfx: dict(domain=[1 - y1 / H, 1 - y0 / H], range=yr, tickmode="array", tickvals=yticks, ticktext=ylabels,
                            anchor="x" + sfx, **common),
    })


def add_grid(n, xticks, yticks, xr, yr):
    xa, ya = axes_ids(n)
    xs, ys = [], []
    for v in xticks:
        xs += [v, v, None]
        ys += [yr[0], yr[1], None]
    for v in yticks:
        xs += [xr[0], xr[1], None]
        ys += [v, v, None]
    fig.add_trace(go.Scatter(x=xs, y=ys, mode="lines", xaxis=xa, yaxis=ya, hoverinfo="skip", showlegend=False,
                             line=dict(color="#b4b4c4", width=2.5, dash="2.5px,8px")))


def add_section(n, box, edges_x, depth, z, black, white, dash, labels):
    xa, ya = axes_ids(n)
    xr, yr = [33.3, 35.7], [200, 0]
    add_axes(n, xr, yr, box, LAT_TICKS, LAT_LABELS, DEPTH_TICKS, [str(d) for d in DEPTH_TICKS], FONT_TICK, -9)
    fig.add_trace(go.Heatmap(x=edges_x, y=depth, z=z, xaxis=xa, yaxis=ya, zmin=23.6, zmax=26.2, colorscale=colorscale,
                             showscale=False, hoverinfo="skip", zsmooth=False))
    add_grid(n, LAT_TICKS, DEPTH_TICKS, xr, yr)
    for lines, col, wd, ds in ((black, "black", 2, "solid"), (dash, "black", 2, "4px,3px"), (white, "white", 2.6, "solid")):
        if lines:
            xs, ys = lines_xy(lines)
            fig.add_trace(go.Scatter(x=xs, y=ys, mode="lines", xaxis=xa, yaxis=ya, hoverinfo="skip", showlegend=False,
                                     line=dict(color=col, width=wd, dash=ds, shape="spline", smoothing=0.6)))
    for la, d, t in labels:
        fig.add_annotation(x=la, y=d, xref=xa, yref=ya, text=t, showarrow=False, bgcolor="white", borderpad=1,
                           font=dict(family="Liberation Sans", size=25, color="black"))


def np10_z(rows):
    return [[cls_value(ch) for ch in r] for r in rows]


def jpn02_z(rows):
    out = []
    for r in rows:
        row = [None] * 120
        runs = [p.split(":") for p in r.split()]
        for (a, c), (b, _) in zip(runs[:-1], runs[1:]):
            i0, i1 = round((float(a) - 33.3) / 0.02), round((float(b) - 33.3) / 0.02)
            for i in range(i0, i1):
                row[i] = cls_value(c)
        out.append(row)
    return out


EDGES_01 = [round(33.4 + 0.1 * i, 1) for i in range(22)]
EDGES_002 = [round(33.3 + 0.02 * i, 2) for i in range(121)]

BOX_A = (103, 658, 63, 623)
BOX_B = (103, 658, 736, 1296)
BOX_C = (740, 1295, 736, 1296)
BOX_D = (1378, 1933, 736, 1296)
BOX_E = (103, 658, 1409, 1969)
BOX_F = (740, 1295, 1409, 1969)
BOX_G = (1378, 1933, 1409, 1969)

add_section(1, BOX_A, EDGES_01, DEPTH_A, np10_z(ROWS_A), BLACK_A, WHITE_A, [], LABELS_A)
add_section(2, BOX_B, EDGES_01, DEPTH_NP10, np10_z(ROWS_B), BLACK_B, WHITE_B, [], LABELS_B)
add_section(3, BOX_C, EDGES_01, DEPTH_NP10, np10_z(ROWS_C), BLACK_C, WHITE_C, DASH_C, LABELS_C)
add_section(4, BOX_D, EDGES_01, DEPTH_NP10, np10_z(ROWS_D), BLACK_D, WHITE_D, DASH_D, LABELS_D)
add_section(5, BOX_E, EDGES_002, DEPTH_JPN02, jpn02_z(ROWS_E), BLACK_E, WHITE_E, [], LABELS_E)
add_section(6, BOX_F, EDGES_002, DEPTH_JPN02, jpn02_z(ROWS_F), BLACK_F, WHITE_F, [], LABELS_F)
add_section(7, BOX_G, EDGES_002, DEPTH_JPN02, jpn02_z(ROWS_G), BLACK_G, WHITE_G, [], LABELS_G)

# map
MAP_FONT = dict(family="Liberation Sans", size=22, color="black")
add_axes(8, [126, 133], [30.5, 37.5], (1380, 1919, 88, 581), LON_TICKS, LON_LABELS, MAPLAT_TICKS, MAPLAT_LABELS, MAP_FONT, -6)
fig.update_layout(yaxis8=dict(ticklen=6), xaxis8=dict(ticklen=6), plot_bgcolor="white")


def add_poly(polys, fill, line=None, width=0):
    xs, ys = [], []
    for p in polys:
        xs += [q[0] for q in p] + [p[0][0], None]
        ys += [q[1] for q in p] + [p[0][1], None]
    fig.add_trace(go.Scatter(x=xs, y=ys, xaxis="x8", yaxis="y8", mode="lines", fill="toself", fillcolor=fill,
                             hoverinfo="skip", showlegend=False,
                             line=dict(color=line or fill, width=width)))


add_poly([[(126, 30.5), (133, 30.5), (133, 37.5), (126, 37.5)]], COLORS[0])
add_poly(SEA_DKRED, COLORS[1])
add_poly(SEA_YELLOW, COLORS[5])
add_poly(SEA_YGREEN, COLORS[6])
add_poly(SEA_AMBER, COLORS[4])
add_poly(SEA_ORANGE, COLORS[3])
add_poly(SEA_RED, COLORS[2])
add_poly(LAND, "white", "black", 1.6)
add_grid(8, LON_TICKS, MAPLAT_TICKS, [126, 133], [30.5, 37.5])
fig.add_trace(go.Scatter(x=[p[0] for p in SECTION], y=[p[1] for p in SECTION], xaxis="x8", yaxis="y8", mode="lines",
                         hoverinfo="skip", showlegend=False, line=dict(color="black", width=4)))

# colour bar
fig.update_layout(
    xaxis9=dict(domain=[706 / W, 1871 / W], range=[23.6, 26.2], anchor="y9", showgrid=False, zeroline=False,
                showline=False, ticks="", tickmode="array", tickvals=DENSITY_LEVELS,
                ticktext=["<b>" + t + "</b>" for t in DENSITY_LABELS],
                tickfont=dict(family="Liberation Sans", size=29, color="black"), ticklabelstandoff=-3),
    yaxis9=dict(domain=[1 - 2074 / H, 1 - 2040 / H], range=[0, 1], anchor="x9", showgrid=False, zeroline=False,
                showline=False, showticklabels=False, ticks=""),
)
fig.add_trace(go.Heatmap(x=DENSITY_LEVELS, y=[0, 1], z=[[23.9 + 0.2 * i for i in range(11)]], xaxis="x9", yaxis="y9",
                         zmin=23.6, zmax=26.2, colorscale=colorscale, showscale=False, hoverinfo="skip"))
for xs, col in (([23.8, 23.6, 23.8, 23.8], COLORS[0]), ([26.0, 26.2, 26.0, 26.0], COLORS[12])):
    fig.add_trace(go.Scatter(x=xs, y=[0, 0.5, 1, 0], xaxis="x9", yaxis="y9", mode="lines", fill="toself", fillcolor=col,
                             hoverinfo="skip", showlegend=False, line=dict(color="black", width=5), cliponaxis=False))
sx, sy = [], []
for v in DENSITY_LEVELS:
    sx += [v, v, None]
    sy += [0, 1, None]
fig.add_trace(go.Scatter(x=sx, y=sy, xaxis="x9", yaxis="y9", mode="lines", hoverinfo="skip", showlegend=False,
                         line=dict(color="black", width=3), cliponaxis=False))
fig.add_trace(go.Scatter(x=[23.8, 26.0, None, 23.8, 26.0], y=[0, 0, None, 1, 1], xaxis="x9", yaxis="y9", mode="lines",
                         hoverinfo="skip", showlegend=False, line=dict(color="black", width=5), cliponaxis=False))


def note(x, y, text, family, size, anchor="left", angle=0, shadow=None):
    f = dict(family=family, size=size, color="black")
    if shadow:
        f["shadow"] = shadow
    fig.add_annotation(x=x / W, y=1 - y / H, xref="paper", yref="paper", text=text, showarrow=False, xanchor=anchor,
                       yanchor="middle", textangle=angle, font=f)


TITLE_FONT = "DejaVu Serif"
TITLE_SHADOW = "0.7px 0 0 black, -0.7px 0 0 black"
TITLES = [("129.45E : FORA-WNP30", 163, 27, 35.5), ("129.45E : JRA55 (NP10)", 158, 700, 36.3),
          ("129.45E : MIROC5 (NP10)", 782, 700, 35), ("129.45E : MRI-CGCM3 (NP10)", 1379, 700, 35.4),
          ("129.45E : JRA55 (JPN02)", 149, 1372, 36.5), ("129.45E : MIROC5 (JPN02)", 773, 1372, 35.3),
          ("129.45E : MRI-CGCM3 (JPN02)", 1372, 1372, 35.2)]
for t, x, y, s in TITLES:
    note(x, y, t, TITLE_FONT, s, shadow=TITLE_SHADOW)
note(1649, 60, "Tsushima Strait", TITLE_FONT, 35, "center", shadow=TITLE_SHADOW)
PANEL_TAGS = [("(a)", 61, 20), ("(b)", 63, 695), ("(c)", 686, 695), ("(d)", 1314, 695), ("(e)", 61, 1369), ("(f)", 693, 1369), ("(g)", 1306, 1369)]
for t, x, y in PANEL_TAGS:
    note(x, y, t, "DejaVu Sans", 46)
for y in (313, 983, 1656):
    note(16, y, "Depth (m)", "DejaVu Sans", 30, "center", -90)

for x0, y0, x1, y1 in ((717, 398, 1280, 600), (184, 2038, 663, 2104)):
    fig.add_shape(type="rect", xref="paper", yref="paper", x0=x0 / W, x1=x1 / W, y0=1 - y0 / H, y1=1 - y1 / H,
                  line=dict(color="#8c8c8c", width=2), layer="below")
NOTE_FONT = "DejaVu Sans"
note(736, 440, "Contours: velocity (cm/s)", NOTE_FONT, 36)
note(747, 499, "(interval: 5 cm/s)", NOTE_FONT, 36)
note(747, 558, "(white labeled: 20, 35 cm/s)", NOTE_FONT, 36)
note(199, 2070, "Shades: density (kg/m3)", NOTE_FONT, 36)

fig.update_layout(width=W, height=H, margin=dict(l=0, r=0, t=0, b=0, autoexpand=False), paper_bgcolor="white", showlegend=False)
fig.write_html("out.html", config={"displayModeBar": False, "responsive": False},
               post_script="document.body.style.margin='0';")
